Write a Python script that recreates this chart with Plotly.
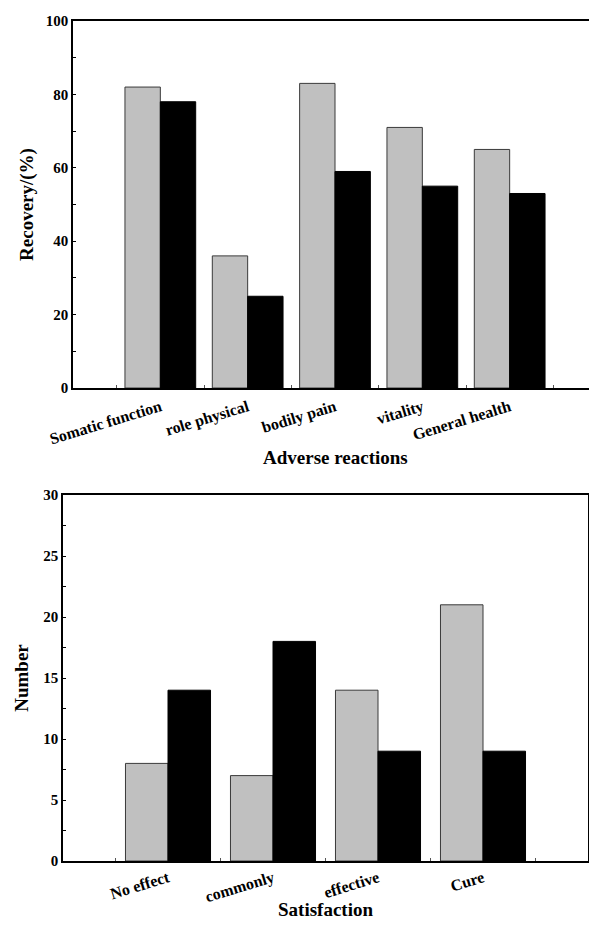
import plotly.graph_objects as go

# ---- data ----
adverse_categories = ["Somatic function", "role physical", "bodily pain", "vitality", "General health"]
adverse_gray = [82, 36, 83, 71, 65]
adverse_black = [78, 25, 59, 55, 53]

satisfaction_categories = ["No effect", "commonly", "effective", "Cure"]
satisfaction_gray = [8, 7, 14, 21]
satisfaction_black = [14, 18, 9, 9]

FONT = "Liberation Serif"
OFF = 8  # default page body margin
W, H = 597 - OFF, 930 - OFF

fig = go.Figure()

idx1 = list(range(len(adverse_categories)))
idx2 = list(range(len(satisfaction_categories)))

fig.add_trace(go.Bar(x=idx1, y=adverse_gray, xaxis="x", yaxis="y",
                     marker=dict(color="#c0c0c0", line=dict(color="#3a3a3a", width=1)),
                     showlegend=False))
fig.add_trace(go.Bar(x=idx1, y=adverse_black, xaxis="x", yaxis="y",
                     marker=dict(color="#000000", line=dict(color="#000000", width=1)),
                     showlegend=False))
fig.add_trace(go.Bar(x=idx2, y=satisfaction_gray, xaxis="x2", yaxis="y2",
                     marker=dict(color="#c0c0c0", line=dict(color="#3a3a3a", width=1)),
                     showlegend=False))
fig.add_trace(go.Bar(x=idx2, y=satisfaction_black, xaxis="x2", yaxis="y2",
                     marker=dict(color="#000000", line=dict(color="#000000", width=1)),
                     showlegend=False))

ytickfont = dict(family=FONT, size=15, color="black", weight="bold")
xtickfont = dict(family=FONT, size=16, color="black", weight="bold")
titlefont = dict(family=FONT, size=19, color="black", weight="bold")


def px_x(p):
    return (p - OFF) / W


def px_y(p):
    return (H - (p - OFF)) / H


def xaxis_cfg(domain, anchor, cats, standoff):
    return dict(
        domain=domain, anchor=anchor, automargin=False,
        range=[-1, len(cats)],
        tickmode="array", tickvals=list(range(len(cats))), ticktext=cats,
        ticks="", tickangle=-17, tickfont=xtickfont, ticklabelstandoff=standoff,
        showline=True, linecolor="black", linewidth=1.5, mirror=True,
        showgrid=False, zeroline=False,
        minor=dict(tickmode="linear", tick0=-0.5, dtick=1, ticks="inside",
                   ticklen=3, tickcolor="#555", showgrid=False),
    )


def yaxis_cfg(domain, anchor, rng, dtick, title, mirror, standoff):
    return dict(
        domain=domain, anchor=anchor, range=rng, automargin=False,
        tickmode="linear", tick0=0, dtick=dtick,
        ticks="inside", ticklen=3, tickcolor="black", tickfont=ytickfont,
        showline=True, linecolor="black", linewidth=1.5, mirror=mirror,
        showgrid=False, zeroline=False,
        minor=dict(tickmode="linear", tick0=0, dtick=dtick / 2, ticks="inside",
                   ticklen=3, tickcolor="black", showgrid=False),
        title=dict(text=title, font=titlefont, standoff=standoff),
    )


x1 = xaxis_cfg([px_x(73), 1.0], "y", adverse_categories, 2)
y1 = yaxis_cfg([px_y(388), px_y(21)], "x", [0, 100], 20, "Recovery/(%)", False, 7)

x2 = xaxis_cfg([px_x(63), px_x(588)], "y2", satisfaction_categories, 0)
y2 = yaxis_cfg([px_y(861), px_y(495)], "x2", [0, 30], 5, "Number", True, 10)

fig.update_layout(
    width=W, height=H,
    margin=dict(l=0, r=0, t=0, b=0),
    paper_bgcolor="white", plot_bgcolor="white",
    barmode="group", bargap=0.19, bargroupgap=0,
    xaxis=x1, yaxis=y1, xaxis2=x2, yaxis2=y2,
    font=dict(family=FONT, color="black"),
    annotations=[
        dict(text="Adverse reactions", xref="paper", yref="paper",
             x=px_x(335), y=px_y(457), xanchor="center", yanchor="middle",
             showarrow=False, font=titlefont),
        dict(text="Satisfaction", xref="paper", yref="paper",
             x=px_x(325), y=px_y(909), xanchor="center", yanchor="middle",
             showarrow=False, font=titlefont),
    ],
)

fig.write_html("out.html")
